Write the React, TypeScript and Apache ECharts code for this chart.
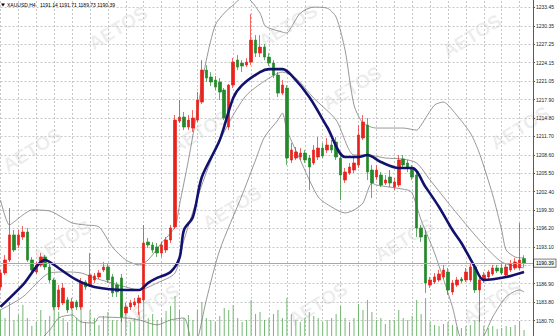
import React, { useEffect, useRef } from 'react';
import * as echarts from 'echarts';

const SYMBOL = 'XAUUSD,H4';

// candles: [open, close, low, high]
const CANDLES: number[][] = [
  [1186.36, 1188.72, 1185.86, 1189.23], [1188.72, 1190.91, 1188.38, 1191.75], [1190.91, 1195.12, 1190.57, 1199.66],
  [1195.12, 1192.59, 1192.26, 1195.96], [1193.43, 1195.12, 1192.93, 1195.96], [1194.78, 1195.62, 1194.28, 1196.63],
  [1195.62, 1190.91, 1190.57, 1196.30], [1190.91, 1189.23, 1188.89, 1191.41], [1188.89, 1190.07, 1188.55, 1190.57],
  [1190.07, 1191.41, 1189.73, 1192.09], [1191.41, 1189.73, 1189.23, 1191.75], [1189.73, 1187.54, 1187.04, 1190.57],
  [1187.54, 1183.00, 1182.49, 1187.88], [1183.00, 1185.86, 1182.49, 1186.70], [1183.67, 1186.19, 1183.33, 1187.04],
  [1184.18, 1182.49, 1181.99, 1184.68], [1182.83, 1183.84, 1182.49, 1184.51], [1183.84, 1183.00, 1182.49, 1184.18],
  [1183.00, 1187.21, 1182.49, 1187.88], [1187.21, 1186.36, 1185.86, 1187.54], [1186.70, 1188.38, 1186.36, 1192.09],
  [1187.54, 1188.22, 1187.04, 1188.72], [1188.05, 1188.72, 1187.71, 1189.23], [1189.23, 1189.73, 1188.89, 1190.57],
  [1189.73, 1187.54, 1187.04, 1190.40], [1188.05, 1185.35, 1184.68, 1188.55], [1186.70, 1185.52, 1184.68, 1187.21],
  [1187.88, 1181.31, 1180.47, 1188.55], [1181.99, 1183.00, 1181.65, 1183.67], [1183.00, 1183.67, 1182.49, 1184.18],
  [1183.33, 1183.84, 1183.00, 1184.51], [1183.67, 1184.51, 1181.65, 1185.02], [1184.18, 1193.77, 1183.84, 1196.80],
  [1193.94, 1193.43, 1192.93, 1194.61], [1193.43, 1192.59, 1192.09, 1193.94], [1193.10, 1192.09, 1191.41, 1193.77],
  [1192.09, 1193.43, 1191.41, 1193.94], [1192.59, 1194.28, 1192.09, 1194.78], [1194.28, 1196.30, 1193.77, 1196.80],
  [1196.47, 1214.48, 1196.13, 1215.32], [1214.31, 1214.98, 1213.97, 1217.85], [1214.98, 1213.30, 1212.79, 1215.83],
  [1213.30, 1214.48, 1212.79, 1215.32], [1213.13, 1214.82, 1212.46, 1216.16], [1214.48, 1217.85, 1214.14, 1219.19],
  [1217.51, 1222.90, 1217.17, 1224.58], [1222.90, 1221.55, 1220.88, 1223.74], [1221.72, 1220.88, 1220.20, 1222.56],
  [1221.21, 1220.03, 1219.53, 1221.89], [1220.88, 1219.19, 1217.85, 1221.55], [1219.53, 1214.82, 1214.48, 1219.87],
  [1213.30, 1220.37, 1212.79, 1220.54], [1220.37, 1224.24, 1219.87, 1224.92], [1224.58, 1223.40, 1222.90, 1225.42],
  [1224.07, 1223.57, 1222.56, 1224.58], [1223.74, 1224.24, 1223.40, 1224.92], [1224.24, 1227.95, 1223.74, 1232.32],
  [1227.95, 1225.76, 1225.08, 1228.79], [1225.76, 1226.77, 1225.08, 1228.79], [1226.77, 1225.08, 1224.58, 1227.27],
  [1225.08, 1224.07, 1223.57, 1225.76], [1224.07, 1222.05, 1221.55, 1224.58], [1222.05, 1219.02, 1218.35, 1222.56],
  [1219.02, 1220.37, 1218.69, 1221.21], [1219.87, 1208.08, 1206.90, 1220.37], [1207.74, 1209.43, 1207.24, 1210.61],
  [1208.08, 1209.09, 1207.74, 1209.93], [1208.25, 1208.92, 1207.74, 1209.76], [1208.92, 1207.74, 1207.24, 1209.43],
  [1208.08, 1206.57, 1202.69, 1208.59], [1207.24, 1209.43, 1206.90, 1210.27], [1208.25, 1209.76, 1207.74, 1211.62],
  [1209.76, 1208.42, 1208.08, 1210.61], [1209.43, 1210.27, 1208.92, 1211.45], [1210.27, 1209.43, 1208.92, 1211.11],
  [1210.77, 1208.25, 1207.74, 1211.62], [1208.08, 1205.22, 1201.01, 1208.59], [1204.38, 1205.72, 1203.87, 1206.40],
  [1205.56, 1206.57, 1205.22, 1207.24], [1206.06, 1207.24, 1205.56, 1208.08], [1206.90, 1211.95, 1206.40, 1213.64],
  [1211.45, 1214.14, 1211.11, 1215.32], [1213.64, 1205.72, 1204.38, 1214.82], [1206.06, 1203.87, 1201.35, 1206.90],
  [1204.88, 1206.06, 1204.38, 1206.90], [1205.22, 1203.54, 1203.20, 1205.72], [1203.87, 1204.38, 1203.54, 1205.22],
  [1204.88, 1203.87, 1203.20, 1206.06], [1203.20, 1204.04, 1202.69, 1204.71], [1203.54, 1207.74, 1203.20, 1208.59],
  [1207.91, 1206.90, 1206.40, 1208.59], [1207.24, 1206.40, 1205.72, 1207.74], [1206.40, 1204.88, 1204.38, 1206.90],
  [1205.22, 1196.30, 1194.78, 1205.72], [1196.30, 1194.78, 1193.94, 1196.80], [1195.12, 1187.04, 1185.35, 1195.96],
  [1186.70, 1187.54, 1186.19, 1188.05], [1187.21, 1188.05, 1186.87, 1188.72], [1187.54, 1188.55, 1187.21, 1189.23],
  [1188.05, 1189.23, 1187.71, 1190.07], [1188.89, 1185.86, 1185.02, 1189.56], [1185.52, 1187.04, 1185.02, 1187.54],
  [1186.70, 1187.54, 1186.36, 1188.05], [1187.71, 1187.37, 1187.04, 1188.05], [1187.54, 1188.89, 1187.21, 1189.56],
  [1187.54, 1189.73, 1187.21, 1190.40], [1189.73, 1185.86, 1185.35, 1190.40], [1185.86, 1187.54, 1180.47, 1188.05],
  [1187.54, 1188.38, 1187.04, 1188.89], [1188.05, 1188.89, 1187.71, 1189.23], [1188.55, 1189.56, 1188.22, 1190.07],
  [1189.56, 1189.06, 1188.72, 1190.07], [1189.56, 1188.72, 1188.38, 1190.24], [1188.38, 1189.73, 1188.05, 1190.40],
  [1189.23, 1190.24, 1188.89, 1190.91], [1189.56, 1190.57, 1189.23, 1191.25], [1189.56, 1190.91, 1189.23, 1197.14],
  [1191.14, 1190.39, 1189.73, 1191.71],
];

const VOLUMES: number[] = [
  14500, 10500, 18500, 9500, 12000, 17000, 10500, 6500, 8500, 14500,
  9500, 11500, 17000, 13500, 10500, 8500, 14500, 10500, 16000, 8500,
  14500, 10500, 7000, 11500, 13500, 9500, 9500, 17000, 12000, 8500,
  10500, 13500, 18500, 10500, 12500, 9500, 10500, 14000, 16500, 21500,
  14500, 10500, 12000, 9500, 14500, 18500, 10500, 9500, 8500, 11500,
  15500, 14500, 17000, 10500, 8500, 9500, 19500, 12500, 13500, 9500,
  10500, 12500, 14500, 10500, 20500, 12500, 9500, 8500, 10500, 13500,
  11500, 10500, 8500, 9500, 10500, 12500, 16500, 10500, 8500, 10500,
  17500, 14500, 19500, 13500, 9500, 10500, 7500, 9500, 9500, 14500,
  10500, 9500, 11500, 19500, 12500, 20500, 8500, 7000, 6500, 7500,
  8500, 7000, 6000, 5500, 6500, 7000, 9500, 12000, 6500, 5500,
  6500, 5000, 5500, 6500, 6000, 7000, 9000, 4500,
];

// [candle index, value]
const MA_LINE: number[][] = [
  [0, 1183.0], [5, 1186.7], [10, 1190.91], [11, 1190.57], [17, 1187.54], [21, 1186.36], [28, 1185.86],
  [31, 1185.86], [33, 1187.04], [35, 1187.88], [38, 1188.89], [40, 1191.25], [41, 1195.96], [43, 1198.15],
  [45, 1204.88], [49, 1211.11], [52, 1218.18], [54, 1220.37], [58, 1222.56], [60, 1223.06], [63, 1223.06],
  [65, 1222.05], [69, 1218.35], [73, 1213.3], [77, 1208.25], [80, 1208.25], [82, 1208.59], [85, 1207.41],
  [89, 1206.4], [92, 1206.4], [95, 1203.2], [98, 1199.83], [101, 1195.96], [103, 1193.77], [106, 1189.73],
  [108, 1187.54], [113, 1188.05], [117, 1188.89],
];

const BB_UPPER: number[][] = [
  [0, 1201.01], [2, 1196.8], [3, 1197.31], [5, 1198.49], [7, 1199.33], [11, 1199.16], [14, 1197.98],
  [16, 1197.14], [19, 1196.8], [22, 1196.47], [25, 1193.1], [28, 1190.91], [31, 1190.07], [33, 1190.91],
  [36, 1193.77], [39, 1196.47], [40, 1200.17], [42, 1207.74], [44, 1216.16], [46, 1224.58], [48, 1230.47],
  [50, 1232.49], [52, 1233.84], [54, 1235.02], [55, 1235.02], [58, 1232.49], [59, 1230.47], [60, 1229.97],
  [63, 1229.29], [64, 1229.12], [65, 1230.13], [67, 1232.49], [70, 1233.5], [73, 1233.33], [75, 1231.82],
  [77, 1226.26], [79, 1217.0], [81, 1213.97], [84, 1213.13], [90, 1213.13], [93, 1212.79], [94, 1213.64],
  [97, 1217.0], [99, 1217.51], [101, 1216.16], [105, 1212.29], [107, 1208.92], [110, 1201.85],
  [112, 1195.96], [113, 1192.59], [115, 1191.41], [117, 1191.25],
];

const BB_MIDDLE: number[][] = [
  [0, 1182.49], [5, 1184.68], [11, 1188.72], [15, 1188.89], [18, 1188.72], [21, 1187.88], [24, 1187.21],
  [28, 1186.36], [31, 1185.86], [35, 1187.04], [39, 1188.72], [41, 1194.28], [45, 1203.54], [48, 1209.43],
  [52, 1215.32], [55, 1218.69], [59, 1221.04], [63, 1222.56], [66, 1221.55], [70, 1218.18], [75, 1214.48],
  [79, 1208.59], [82, 1208.59], [86, 1208.08], [90, 1207.91], [93, 1207.24], [96, 1204.38], [101, 1199.66],
  [107, 1194.28], [112, 1190.57], [117, 1189.56],
];

const BB_LOWER: number[][] = [
  [0, 1176.6], [7, 1176.6], [11, 1179.12], [13, 1181.14], [16, 1181.65], [18, 1180.47], [21, 1180.3],
  [22, 1181.31], [28, 1181.14], [31, 1180.81], [35, 1179.97], [38, 1180.81], [41, 1181.14], [43, 1176.6],
  [44, 1177.44], [46, 1184.18], [49, 1192.59], [54, 1201.85], [57, 1207.74], [59, 1211.62], [62, 1214.48],
  [63, 1215.66], [64, 1212.79], [67, 1207.74], [71, 1201.52], [74, 1199.83], [77, 1198.82], [79, 1199.33],
  [81, 1200.5], [83, 1203.87], [84, 1203.54], [91, 1202.69], [92, 1202.19], [94, 1197.64], [97, 1192.09],
  [101, 1183.0], [103, 1177.44], [106, 1176.6], [108, 1178.11], [110, 1181.31], [113, 1184.68],
  [116, 1185.86], [117, 1185.52],
];

const Y_MIN = 1177.597;
const Y_STEP = 3.1029;
const Y_MAX = Y_MIN + 19 * Y_STEP;
// first and last ticks fall outside the visible window; 1190.00 is covered by the price box
const TICK_LABELS = [
  '', '1180.70', '1183.80', '1186.90', '', '1193.10', '1196.20', '1199.30', '1202.40', '1205.50',
  '1208.60', '1211.70', '1214.80', '1217.90', '1221.05', '1224.15', '1227.25', '1230.35', '1233.45', '',
];

const CATEGORIES: string[] = [...CANDLES.map((_, i) => String(i)), '118', '119'];

// chart canvas is shifted up by OFFSET so the axis extremes fall off the page
const OFFSET = 11;
const WATERMARKS: number[][] = [
  [118, 28], [288, 26], [472, 36], [32, 150], [200, 132], [352, 88], [520, 128],
  [62, 242], [232, 208], [404, 240], [150, 306], [318, 304], [492, 302],
];

const FONT = 'Liberation Sans, Arial, sans-serif';

export default function App() {
  const ref = useRef<HTMLDivElement>(null);
  useEffect(() => {
    if (!ref.current) return;
    const chart = echarts.init(ref.current, null, { renderer: 'svg' });
    const last = CANDLES[CANDLES.length - 1];
    const lastClose = last[1];
    const ohlc = `${last[0].toFixed(2)} ${last[3].toFixed(2)} ${last[2].toFixed(2)} ${last[1].toFixed(2)}`;
    const bandStyle = { color: '#7d7d7d', width: 0.8 };
    const graphics: any[] = WATERMARKS.map(([x, y]) => ({
      type: 'text', x, y: y + OFFSET, rotation: 0.55, silent: true, z: 0,
      style: {
        text: 'AETOS', fontSize: 19, fontWeight: 'bold', fontFamily: FONT,
        fill: 'rgba(110,110,110,0.12)', align: 'center', verticalAlign: 'middle',
      },
    }));
    graphics.push(
      { type: 'polygon', z: 100, shape: { points: [[1, 3.5 + OFFSET], [5, 3.5 + OFFSET], [3, 6.5 + OFFSET]] }, style: { fill: '#000' } },
      { type: 'text', x: 7, y: 5 + OFFSET, z: 100, style: { text: SYMBOL, fontSize: 5, fontFamily: FONT, fill: '#000', verticalAlign: 'middle' } },
      { type: 'text', x: 40, y: 5 + OFFSET, z: 100, style: { text: ohlc, fontSize: 5, fontFamily: FONT, fill: '#000', verticalAlign: 'middle' } },
    );
    chart.setOption({
      animation: false,
      backgroundColor: '#ffffff',
      grid: { left: 0.5, right: 27, top: 0, bottom: 0, containLabel: false },
      xAxis: {
        type: 'category', data: CATEGORIES, boundaryGap: false,
        axisLine: { show: false }, axisTick: { show: false }, axisLabel: { show: false },
        splitLine: { show: true, interval: 3, lineStyle: { color: '#c6c6c6', type: [2, 2], width: 1 } },
      },
      yAxis: [
        {
          type: 'value', position: 'right', min: Y_MIN, max: Y_MAX, interval: Y_STEP,
          axisLine: { show: true, lineStyle: { color: '#5a5a5a', width: 1 } },
          axisTick: { show: true, length: 2, lineStyle: { color: '#5a5a5a' } },
          axisLabel: {
            show: true, margin: 3, fontSize: 5, color: '#222', fontFamily: FONT,
            formatter: (v: number) => TICK_LABELS[Math.round((v - Y_MIN) / Y_STEP)] ?? '',
          },
          splitLine: { show: true, lineStyle: { color: '#c6c6c6', type: [2, 2], width: 1 } },
        },
        { type: 'value', min: 0, max: 175000, show: false, splitLine: { show: false } },
      ],
      graphic: graphics,
      series: [
        { type: 'bar', yAxisIndex: 1, data: VOLUMES, barWidth: 1, itemStyle: { color: '#74b874' }, z: 1, silent: true },
        { type: 'line', data: BB_UPPER, symbol: 'none', smooth: 0.25, lineStyle: bandStyle, z: 2, silent: true },
        { type: 'line', data: BB_MIDDLE, symbol: 'none', smooth: 0.25, lineStyle: bandStyle, z: 2, silent: true },
        { type: 'line', data: BB_LOWER, symbol: 'none', smooth: 0.25, lineStyle: bandStyle, z: 2, silent: true },
        {
          type: 'candlestick', data: CANDLES, barWidth: 3, z: 3,
          itemStyle: { color: '#e8231c', color0: '#23892a', borderColor: '#e8231c', borderColor0: '#23892a', borderWidth: 0.7 },
          markLine: {
            silent: true, symbol: ['none', 'none'], data: [{ yAxis: lastClose }],
            lineStyle: { color: '#a8a8a8', type: 'solid', width: 1 },
            label: {
              show: true, position: 'end', distance: 1, formatter: lastClose.toFixed(2), fontSize: 5,
              fontFamily: FONT, color: '#000', backgroundColor: '#f4f4f4', borderColor: '#222',
              borderWidth: 0.6, padding: [1.5, 2, 1, 2],
            },
          },
        },
        { type: 'line', data: MA_LINE, symbol: 'none', smooth: 0.3, lineStyle: { color: '#12126e', width: 2.6 }, z: 4, silent: true },
      ],
    });
    return () => chart.dispose();
  }, []);
  return <div ref={ref} style={{ position: 'fixed', left: 0, top: -OFFSET, width: 560, height: 350 }} />;
}
